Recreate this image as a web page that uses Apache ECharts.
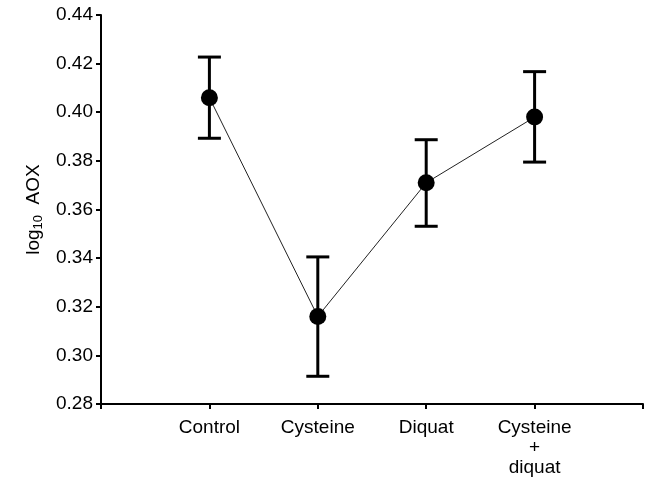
<!DOCTYPE html>
<html>
<head>
<meta charset="utf-8">
<script src="https://cdn.jsdelivr.net/npm/echarts@6/dist/echarts.min.js"></script>
<style>html,body{margin:0;padding:0;background:#fff;}#c{width:651px;height:483px;}</style>
</head>
<body>
<div id="c"></div>
<script>
const categories = ['Control', 'Cysteine', 'Diquat', 'Cysteine\n+\ndiquat'];
const means = [0.406, 0.316, 0.371, 0.398];
const upper = [0.4227, 0.3405, 0.3887, 0.4167];
const lower = [0.3893, 0.2914, 0.3531, 0.3795];
const yTicks = [0.28, 0.30, 0.32, 0.34, 0.36, 0.38, 0.40, 0.42, 0.44];

const FONT = '"Liberation Sans", Arial, sans-serif';
const chart = echarts.init(document.getElementById('c'));
const pts = means.map((v, i) => [i + 1, v]);
const errs = means.map((v, i) => [i + 1, lower[i], upper[i]]);

chart.setOption({
  animation: false,
  backgroundColor: '#fff',
  grid: { left: 101, right: 8, top: 15, bottom: 79, containLabel: false },
  xAxis: {
    type: 'value', min: 0, max: 5, interval: 1,
    axisLine: { show: true, onZero: false, lineStyle: { color: '#000', width: 2 } },
    axisTick: { show: true, length: 5, lineStyle: { color: '#000', width: 2 } },
    splitLine: { show: false },
    axisLabel: {
      color: '#000', fontSize: 19, fontFamily: FONT, margin: 14, lineHeight: 20,
      formatter: v => (v >= 1 && v <= categories.length) ? categories[v - 1] : ''
    }
  },
  yAxis: {
    type: 'value', min: yTicks[0], max: yTicks[yTicks.length - 1], interval: 0.02,
    axisLine: { show: true, lineStyle: { color: '#000', width: 2 } },
    axisTick: { show: true, length: 5, lineStyle: { color: '#000', width: 2 } },
    splitLine: { show: false },
    axisLabel: { color: '#000', fontSize: 19, fontFamily: FONT, margin: 8, formatter: v => v.toFixed(2) },
    name: '{a|log}{b|10}{a|  AOX}',
    nameLocation: 'middle', nameRotate: 90, nameGap: 53,
    nameTextStyle: {
      color: '#000', fontFamily: FONT,
      rich: {
        a: { fontSize: 19, fontFamily: FONT, color: '#000' },
        b: { fontSize: 13, fontFamily: FONT, color: '#000', padding: [10, 0, 0, 0] }
      }
    }
  },
  series: [
    {
      type: 'custom',
      data: errs,
      z: 3,
      renderItem: function (params, api) {
        const x = api.value(0);
        const lo = api.coord([x, api.value(1)]);
        const hi = api.coord([x, api.value(2)]);
        const hw = 11.5;
        const st = { stroke: '#000', lineWidth: 3 };
        return {
          type: 'group',
          children: [
            { type: 'line', shape: { x1: lo[0], y1: lo[1], x2: hi[0], y2: hi[1] }, style: st },
            { type: 'line', shape: { x1: hi[0] - hw, y1: hi[1], x2: hi[0] + hw, y2: hi[1] }, style: st },
            { type: 'line', shape: { x1: lo[0] - hw, y1: lo[1], x2: lo[0] + hw, y2: lo[1] }, style: st }
          ]
        };
      }
    },
    {
      type: 'line',
      data: pts,
      z: 4,
      symbol: 'circle', symbolSize: 17,
      itemStyle: { color: '#000' },
      lineStyle: { color: '#222', width: 1 }
    }
  ]
});
</script>
</body>
</html>
